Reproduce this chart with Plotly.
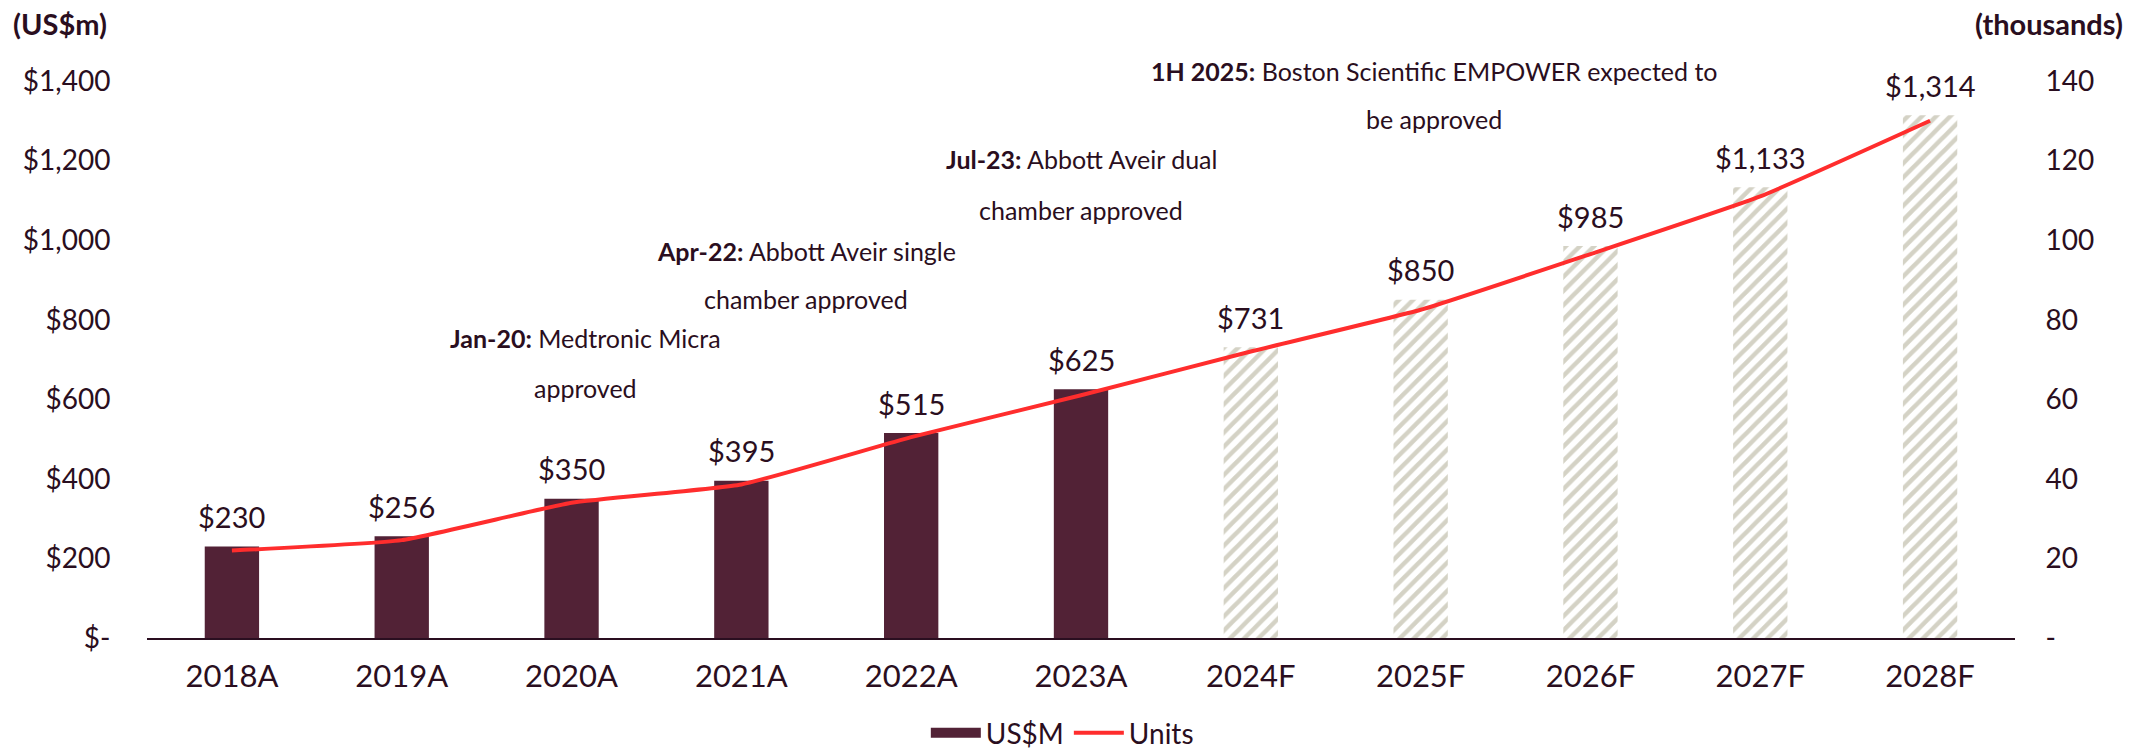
import plotly.graph_objects as go

years = ["2018A", "2019A", "2020A", "2021A", "2022A", "2023A",
         "2024F", "2025F", "2026F", "2027F", "2028F"]
revenue = [230, 256, 350, 395, 515, 625, 731, 850, 985, 1133, 1314]
units = [22, 24.6, 34, 38.6, 50.5, 61, 72, 82.5, 96.5, 111, 130]
forecast = [False] * 6 + [True] * 5
left_ticks = [0, 200, 400, 600, 800, 1000, 1200, 1400]
left_labels = ["$-", "$200", "$400", "$600", "$800", "$1,000", "$1,200", "$1,400"]
right_ticks = [0, 20, 40, 60, 80, 100, 120, 140]
right_labels = ["-", "20", "40", "60", "80", "100", "120", "140"]

events = [
    ("Jan-20:", "Medtronic Micra", "approved", 0.235, 338, 388),
    ("Apr-22:", "Abbott Aveir single", "chamber approved", 0.353, 251, 299),
    ("Jul-23:", "Abbott Aveir dual", "chamber approved", 0.500, 159, 210),
    ("1H 2025:", "Boston Scientific EMPOWER expected to", "be approved", 0.689, 71, 119),
]

MAROON = "#522236"
HATCH = "#D4D2C5"
TXT = "#2A0E20"
FONT = "Lato"

W, H = 2129, 755
L, R, T, B = 147, 114, 81, 117

fig = go.Figure()
fig.add_trace(go.Bar(
    x=years, y=revenue, name="US$M", showlegend=False,
    marker=dict(
        color=[HATCH if f else MAROON for f in forecast],
        line=dict(width=0),
        pattern=dict(shape=["/" if f else "" for f in forecast],
                     fillmode="replace", size=10, solidity=0.45),
    ),
    yaxis="y",
))
# legend entry for the bar series (wide rectangle swatch as in the reference)
fig.add_trace(go.Scatter(
    x=[None], y=[None], name="US$M", mode="lines",
    line=dict(color=MAROON, width=18), yaxis="y",
))
fig.add_trace(go.Scatter(
    x=years, y=units, name="Units", mode="lines",
    line=dict(color="#FF2D2D", width=4, shape="spline", smoothing=0.4),
    yaxis="y2",
))

annotations = []
for yr, v in zip(years, revenue):
    annotations.append(dict(
        x=yr, y=v, xref="x", yref="y", text=f"${v:,}", showarrow=False,
        yanchor="middle", yshift=30, font=dict(family=FONT, size=29, color=TXT),
    ))

plot_w = W - L - R
plot_h = H - T - B
for bold, rest, line2, xc, y1, y2 in events:
    for txt, yy in ((f"<b>{bold}</b> {rest}", y1), (line2, y2)):
        annotations.append(dict(
            x=xc, y=1 - (yy - T) / plot_h, xref="paper", yref="paper",
            text=txt, showarrow=False, xanchor="center", yanchor="middle",
            font=dict(family=FONT, size=25, color=TXT),
        ))

annotations.append(dict(x=(11 - L) / plot_w, y=1 - (23 - T) / plot_h,
                        xref="paper", yref="paper", text="<b>(US$m)</b>",
                        showarrow=False, xanchor="left", yanchor="middle",
                        font=dict(family=FONT, size=29, color=TXT)))
annotations.append(dict(x=(2125 - L) / plot_w, y=1 - (23 - T) / plot_h,
                        xref="paper", yref="paper", text="<b>(thousands)</b>",
                        showarrow=False, xanchor="right", yanchor="middle",
                        font=dict(family=FONT, size=29, color=TXT)))

fig.update_layout(
    width=W, height=H,
    margin=dict(l=L, r=R, t=T, b=B, autoexpand=False),
    paper_bgcolor="white", plot_bgcolor="white",
    font=dict(family=FONT, size=29, color=TXT),
    bargap=0.68,
    showlegend=True,
    legend=dict(orientation="h", x=0.49, xanchor="center",
                yref="paper", y=-(733 - (H - B)) / plot_h, yanchor="middle",
                font=dict(family=FONT, size=28, color=TXT),
                traceorder="normal", itemwidth=50),
    xaxis=dict(categoryorder="array", categoryarray=years,
               showline=True, linecolor="#2A0E20", linewidth=2,
               ticks="outside", ticklen=10, tickcolor="rgba(0,0,0,0)",
               showgrid=False, tickfont=dict(size=31)),
    yaxis=dict(range=[0, 1400], tickvals=left_ticks, ticktext=left_labels,
               showgrid=False, zeroline=False, ticks="outside", ticklen=30,
               tickcolor="rgba(0,0,0,0)", tickfont=dict(size=28)),
    yaxis2=dict(range=[0, 140], tickvals=right_ticks, ticktext=right_labels,
                overlaying="y", side="right", showgrid=False, zeroline=False,
                ticks="outside", ticklen=24, tickcolor="rgba(0,0,0,0)",
                tickfont=dict(size=28)),
    annotations=annotations,
)

fig.write_html("out.html", config={"displayModeBar": False},
               post_script="document.body.style.margin='0';document.body.style.overflow='hidden';")
